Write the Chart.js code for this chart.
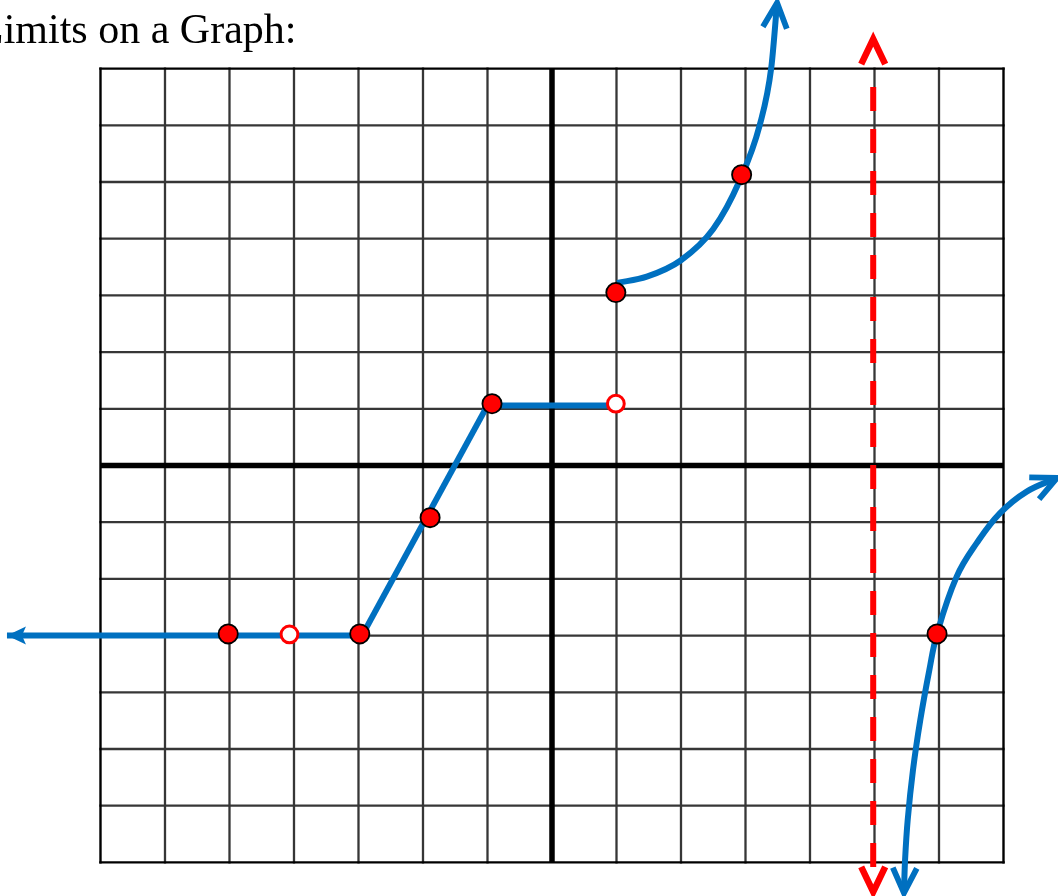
<!DOCTYPE html>
<html>
<head>
<meta charset="utf-8">
<script src="https://cdn.jsdelivr.net/npm/chart.js@4/dist/chart.umd.min.js"></script>
<style>
  html, body { margin: 0; padding: 0; background: #ffffff; overflow: hidden; }
  #wrap { position: relative; width: 1058px; height: 896px; overflow: hidden; }
  #title { position: absolute; left: -22px; top: 8px; font-family: "Liberation Serif", "Times New Roman", serif; font-size: 42px; line-height: 42px; color: #000; white-space: nowrap; }
  canvas { position: absolute; left: 0; top: 0; }
</style>
</head>
<body>
<div id="wrap">
  <canvas id="c" width="1058" height="896"></canvas>
  <div id="title">Limits on a Graph:</div>
</div>
<script>
// ---- data ----
const gridTicks = [-7, -6, -5, -4, -3, -2, -1, 0, 1, 2, 3, 4, 5, 6, 7];

const leftRayX = [-8.45, -3];
const leftRayY = [-3, -3];

const rampX = [-2.93, -1.0];
const rampY = [-2.97, 1.06];

const flatX = [-1, 1];
const flatY = [1.06, 1.06];

const upperCurveX = [1.01, 1.47, 2.0, 2.5, 2.9, 3.22, 3.4, 3.49];
const upperCurveY = [3.22, 3.33, 3.62, 4.17, 5.0, 6.0, 7.02, 8.16];

const lowerCurveX = [5.457, 5.474, 5.515, 5.597, 5.71, 5.85, 5.969, 6.274, 6.584, 6.946, 7.36, 7.829];
const lowerCurveY = [-7.54, -6.96, -6.25, -5.37, -4.49, -3.61, -2.97, -1.96, -1.37, -0.84, -0.46, -0.22];

// vertical asymptote x = 5: dashed part, and its two arrow tips
const asymptoteX = [4.98, 4.98];
const asymptoteY = [-7.08, 6.68];
const asymptoteTipY = [-7.52, 7.52];

const filledX = [-5.02, -2.98, -1.89, -0.93, 0.99, 2.94, 5.97];
const filledY = [-2.97, -2.97, -0.92, 1.09, 3.05, 5.13, -2.97];

const openX = [-4.07, 0.99];
const openY = [-2.98, 1.09];

// ---- helpers ----
const pts = (xs, ys) => xs.map((x, i) => ({ x: x, y: ys[i] }));

const BLUE = '#0070C0';
const RED = '#FF0000';

const gridPlugin = {
  id: 'gridPlugin',
  beforeDatasetsDraw(chart) {
    const { ctx, scales: { x, y } } = chart;
    const lo = gridTicks[0], hi = gridTicks[gridTicks.length - 1];
    const x0 = x.getPixelForValue(lo), x1 = x.getPixelForValue(hi);
    const y0 = y.getPixelForValue(lo), y1 = y.getPixelForValue(hi);
    ctx.save();
    ctx.lineCap = 'square';
    const line = (ax, ay, bx, by) => { ctx.beginPath(); ctx.moveTo(ax, ay); ctx.lineTo(bx, by); ctx.stroke(); };
    ctx.strokeStyle = '#363636';
    ctx.lineWidth = 2.3;
    gridTicks.forEach(v => {
      if (v === 0 || v === lo || v === hi) return;
      const px = x.getPixelForValue(v), py = y.getPixelForValue(v);
      line(px, y0, px, y1);
      line(x0, py, x1, py);
    });
    ctx.strokeStyle = '#000';
    ctx.lineWidth = 2.4;
    [lo, hi].forEach(v => {
      const px = x.getPixelForValue(v), py = y.getPixelForValue(v);
      line(px, y0, px, y1);
      line(x0, py, x1, py);
    });
    ctx.lineWidth = 5.5;
    ctx.lineCap = 'butt';
    const ax = x.getPixelForValue(0), ay = y.getPixelForValue(0);
    line(ax, y0, ax, y1);
    line(x0, ay, x1, ay);
    ctx.restore();
  }
};

const endOf = (xs, ys, which) => which === 'start'
  ? { tip: { x: xs[0], y: ys[0] }, from: { x: xs[1], y: ys[1] } }
  : { tip: { x: xs[xs.length - 1], y: ys[ys.length - 1] }, from: { x: xs[xs.length - 2], y: ys[ys.length - 2] } };

const arrowSpecs = [
  Object.assign(endOf(leftRayX, leftRayY, 'start'), { kind: 'triangle', color: BLUE }),
  Object.assign(endOf(upperCurveX, upperCurveY, 'end'), { kind: 'chevron', color: BLUE, width: 5.8 }),
  Object.assign(endOf(lowerCurveX, lowerCurveY, 'start'), { kind: 'chevron', color: BLUE, width: 5.8 }),
  Object.assign(endOf(lowerCurveX, lowerCurveY, 'end'), { kind: 'chevron', color: BLUE, width: 5.8 }),
  { tip: { x: asymptoteX[0], y: asymptoteTipY[0] }, from: { x: asymptoteX[0], y: asymptoteY[0] }, kind: 'chevron', color: RED, width: 6.5 },
  { tip: { x: asymptoteX[1], y: asymptoteTipY[1] }, from: { x: asymptoteX[1], y: asymptoteY[1] }, kind: 'chevron', color: RED, width: 6.5 }
];

const arrowPlugin = {
  id: 'arrowPlugin',
  afterDatasetsDraw(chart) {
    const { ctx, scales: { x, y } } = chart;
    ctx.save();
    arrowSpecs.forEach(s => {
      const px = x.getPixelForValue(s.tip.x), py = y.getPixelForValue(s.tip.y);
      const qx = x.getPixelForValue(s.from.x), qy = y.getPixelForValue(s.from.y);
      let ux = px - qx, uy = py - qy;
      const n = Math.hypot(ux, uy); ux /= n; uy /= n;
      const vx = -uy, vy = ux;
      if (s.kind === 'chevron') {
        const L = 25, W = 12;
        ctx.strokeStyle = s.color;
        ctx.lineWidth = s.width;
        ctx.lineCap = 'butt';
        ctx.lineJoin = 'miter';
        ctx.miterLimit = 10;
        ctx.beginPath();
        ctx.moveTo(px - ux * L + vx * W, py - uy * L + vy * W);
        ctx.lineTo(px, py);
        ctx.lineTo(px - ux * L - vx * W, py - uy * L - vy * W);
        ctx.stroke();
      } else {
        const L = 19, W = 9, N = 4;
        ctx.fillStyle = s.color;
        ctx.beginPath();
        ctx.moveTo(px, py);
        ctx.lineTo(px - ux * L + vx * W, py - uy * L + vy * W);
        ctx.lineTo(px - ux * (L - N), py - uy * (L - N));
        ctx.lineTo(px - ux * L - vx * W, py - uy * L - vy * W);
        ctx.closePath();
        ctx.fill();
      }
    });
    ctx.restore();
  }
};

const lineDs = (key, xs, ys, extra) => Object.assign({
  key: key,
  data: pts(xs, ys),
  showLine: true,
  borderColor: BLUE,
  backgroundColor: BLUE,
  borderWidth: 6,
  pointRadius: 0,
  pointHoverRadius: 0,
  tension: 0,
  clip: false,
  order: 2
}, extra || {});

const datasets = [
  {
    key: 'filled', data: pts(filledX, filledY), showLine: false,
    pointRadius: 9.6, pointHoverRadius: 9.6,
    backgroundColor: RED, borderColor: '#000', borderWidth: 1.8,
    clip: false, order: 0
  },
  {
    key: 'open', data: pts(openX, openY), showLine: false,
    pointRadius: 8.4, pointHoverRadius: 8.4,
    backgroundColor: '#ffffff', borderColor: RED, borderWidth: 3,
    clip: false, order: 0
  },
  lineDs('leftRay', leftRayX, leftRayY),
  lineDs('ramp', rampX, rampY, { borderCapStyle: 'butt' }),
  lineDs('flat', flatX, flatY),
  lineDs('upper', upperCurveX, upperCurveY, { cubicInterpolationMode: 'monotone', borderCapStyle: 'butt' }),
  lineDs('lower', lowerCurveX, lowerCurveY, { tension: 0.4, borderCapStyle: 'butt' }),
  lineDs('asym', asymptoteX, asymptoteY, { borderColor: RED, borderWidth: 6, borderDash: [24, 18], borderDashOffset: 0, borderCapStyle: 'butt', order: 3 })
];

const xMin = -8.558, xMax = 7.845;
const yMin = -7.593, yMax = 8.210;

new Chart(document.getElementById('c').getContext('2d'), {
  type: 'scatter',
  data: { datasets: datasets },
  options: {
    responsive: false,
    animation: false,
    events: [],
    layout: { padding: 0, autoPadding: false },
    plugins: { legend: { display: false }, tooltip: { enabled: false }, title: { display: false } },
    scales: {
      x: { type: 'linear', min: xMin, max: xMax, display: false },
      y: { type: 'linear', min: yMin, max: yMax, display: false }
    }
  },
  plugins: [gridPlugin, arrowPlugin]
});
</script>
</body>
</html>
